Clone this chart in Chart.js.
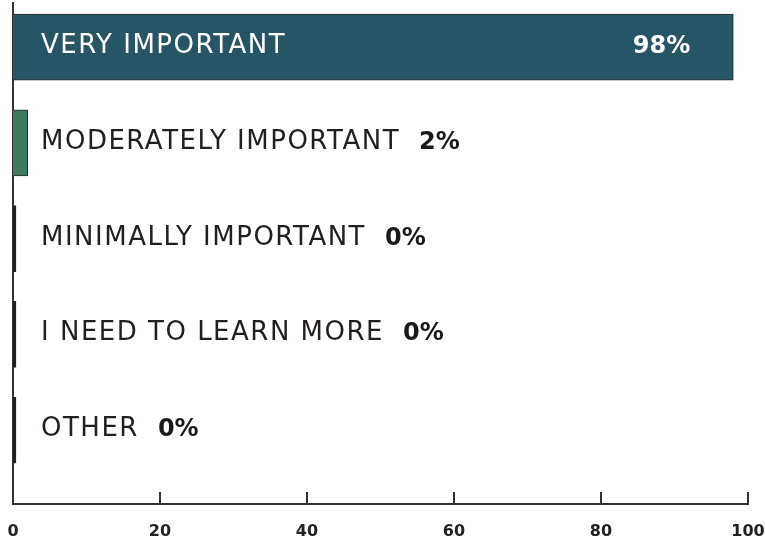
<!DOCTYPE html>
<html><head><meta charset="utf-8">
<script src="https://cdn.jsdelivr.net/npm/chart.js@4"></script>
<style>html,body{margin:0;padding:0;background:#fff}#wrap{width:765px;height:544px;position:relative}</style>
</head><body><div id="wrap"><canvas id="c"></canvas></div>
<script>
const categories = ['VERY IMPORTANT', 'MODERATELY IMPORTANT', 'MINIMALLY IMPORTANT', 'I NEED TO LEARN MORE', 'OTHER'];
const percentValues = [98, 2, 0, 0, 0];
const valueLabels = ['98%', '2%', '0%', '0%', '0%'];
const barColors = ['#265566', '#3e7a5e', '#1e1e1e', '#1e1e1e', '#1e1e1e'];
const xTickValues = [0, 20, 40, 60, 80, 100];

const AXIS = '#333333';

const labelPlugin = {
  id: 'barLabels',
  afterDatasetsDraw(chart) {
    const ctx = chart.ctx;
    const meta = chart.getDatasetMeta(0);
    const xs = chart.scales.x;
    const x0 = xs.getPixelForValue(0);
    ctx.save();
    meta.data.forEach((bar, i) => {
      const inside = percentValues[i] > 50;
      const baseY = bar.y + 6;
      const tx = x0 + 28;
      ctx.font = '26px "DejaVu Sans"';
      ctx.letterSpacing = '1.5px';
      ctx.fillStyle = inside ? '#ffffff' : '#231f20';
      ctx.textAlign = 'left';
      ctx.textBaseline = 'alphabetic';
      ctx.fillText(categories[i], tx, baseY);
      const w = ctx.measureText(categories[i]).width;
      ctx.font = 'bold 24px "DejaVu Sans"';
      ctx.letterSpacing = '0px';
      if (inside) {
        ctx.fillStyle = '#ffffff';
        ctx.textAlign = 'right';
        ctx.fillText(valueLabels[i], bar.x - 43, baseY);
      } else {
        ctx.fillStyle = '#1a1a1a';
        ctx.textAlign = 'left';
        ctx.fillText(valueLabels[i], tx + w + 19, baseY);
      }
    });
    ctx.strokeStyle = AXIS;
    ctx.lineWidth = 2;
    const yb = chart.chartArea.bottom;
    xs.ticks.forEach(t => {
      const px = Math.round(xs.getPixelForValue(t.value));
      ctx.beginPath();
      ctx.moveTo(px, yb);
      ctx.lineTo(px, yb - 12);
      ctx.stroke();
    });
    ctx.restore();
  }
};

new Chart(document.getElementById('c'), {
  type: 'bar',
  data: {
    datasets: [{
      data: percentValues.map((v, i) => ({ x: v, y: i })),
      backgroundColor: barColors,
      borderColor: '#2b2b2b',
      borderWidth: 1,
      barThickness: 66,
      minBarLength: 3,
      clip: false
    }]
  },
  options: {
    indexAxis: 'y',
    responsive: true,
    maintainAspectRatio: false,
    devicePixelRatio: 1,
    animation: false,
    layout: { padding: { top: 3, left: 13, right: 17, bottom: -15 } },
    plugins: { legend: { display: false }, tooltip: { enabled: false } },
    scales: {
      x: {
        type: 'linear',
        position: 'bottom',
        min: 0,
        max: 100,
        afterBuildTicks: s => { s.ticks = xTickValues.map(v => ({ value: v })); },
        ticks: {
          font: { family: 'DejaVu Sans', size: 16, weight: 'bold', lineHeight: '55px' },
          color: '#222222',
          padding: 0,
          maxRotation: 0,
          autoSkip: false
        },
        grid: { display: false, drawTicks: false },
        border: { display: true, color: AXIS, width: 2 }
      },
      y: {
        type: 'linear',
        reverse: true,
        offset: false,
        min: -0.46,
        max: 4.77,
        ticks: { display: false },
        grid: { display: false, drawTicks: false, offset: false },
        border: { display: true, color: AXIS, width: 2 }
      }
    }
  },
  plugins: [labelPlugin]
});
</script>
</body></html>
